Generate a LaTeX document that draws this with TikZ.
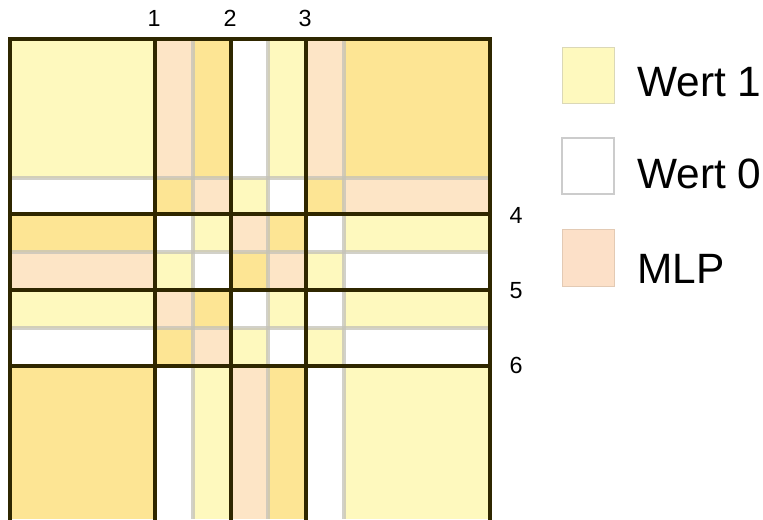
\documentclass[tikz,border=0pt]{standalone}
\usepackage{fontspec}
\setmainfont{Liberation Sans}
\definecolor{cY}{HTML}{FEF9BE}
\definecolor{cW}{HTML}{FFFFFF}
\definecolor{cP}{HTML}{FDE5C6}
\definecolor{cD}{HTML}{FDE594}
\definecolor{cLP}{HTML}{FCE0C8}
\definecolor{majorc}{HTML}{2F2700}
\definecolor{minorc}{HTML}{C4C2B8}
\tikzset{
  majorline/.style={draw=majorc, line width=2.3pt, line cap=rect},
  minorline/.style={draw=minorc, line width=2.6pt, opacity=0.75},
  numlab/.style={font=\fontsize{17.5}{17.5}\selectfont, inner sep=0pt},
  leglab/.style={font=\fontsize{31.8}{31.8}\selectfont, inner sep=0pt, anchor=base west},
}
\begin{document}
\begin{tikzpicture}[x=0.75pt,y=-0.75pt]
\useasboundingbox (0,0) rectangle (763,519);
% cells
\foreach \ya/\yb/\cells in {39/178/{Y,P,D,W,Y,P,D},178/214/{W,D,P,Y,W,D,P},214/252/{D,W,Y,P,D,W,Y},252/290/{P,Y,W,D,P,Y,W},290/328/{Y,P,D,W,Y,W,Y},328/366/{W,D,P,Y,W,Y,W},366/519/{D,W,Y,P,D,W,Y}}{
  \foreach \c [count=\i] in \cells {
    \pgfmathsetmacro{\xa}{{10,155,193,231,268,306,344,490}[\i-1]}
    \pgfmathsetmacro{\xb}{{10,155,193,231,268,306,344,490}[\i]}
    \fill[c\c] (\xa,\ya) rectangle (\xb,\yb);
  }
}
% minor lines
\foreach \x in {193,268,344} \draw[minorline] (\x,39) -- (\x,519);
\foreach \y in {178,252,328} \draw[minorline] (10,\y) -- (490,\y);
% major lines
\foreach \x in {155,231,306} \draw[majorline] (\x,39) -- (\x,519);
\foreach \y in {214,290,366} \draw[majorline] (10,\y) -- (490,\y);
\draw[majorline] (10,520) -- (10,39) -- (490,39) -- (490,520);
% labels
\node[numlab] (n1) at (154,18.5) {1};
\node[numlab] (n2) at (230,18.5) {2};
\node[numlab] (n3) at (305,18.5) {3};
\node[numlab] (n4) at (516,215.5) {4};
\node[numlab] (n5) at (516,291) {5};
\node[numlab] (n6) at (516,365.5) {6};
% legend
\draw[fill=cY, draw=cY!80!black!70, line width=0.6pt] (562,47) rectangle (614,103);
\draw[fill=white, draw=black!20, line width=0.8pt] (562,138) rectangle (614,194);
\draw[fill=cLP, draw=cLP!90!black, line width=0.5pt] (562,229) rectangle (614,286);
\node[leglab] (t1) at (637,96) {Wert 1};
\node[leglab] (t0) at (637,188) {Wert 0};
\node[leglab] (tm) at (637,283) {MLP};
\end{tikzpicture}
\end{document}
